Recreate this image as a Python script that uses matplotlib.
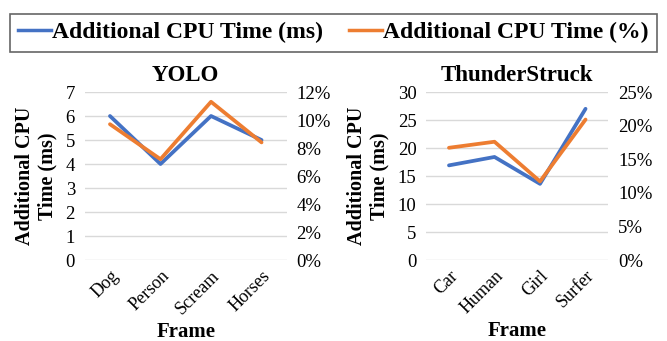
import matplotlib.pyplot as plt
import matplotlib.transforms as mtransforms
from matplotlib.ticker import FuncFormatter, MultipleLocator
from matplotlib.lines import Line2D

# data
yolo_frames = ['Dog', 'Person', 'Scream', 'Horses']
yolo_ms = [6.0, 4.0, 6.0, 5.0]
yolo_pct = [9.7, 7.2, 11.3, 8.4]

ts_frames = ['Car', 'Human', 'Girl', 'Surfer']
ts_ms = [16.9, 18.4, 13.6, 27.0]
ts_pct = [16.7, 17.6, 11.7, 20.9]

blue = '#4472C4'
orange = '#ED7D31'

plt.rcParams['font.family'] = ['Liberation Serif', 'DejaVu Serif']

fig = plt.figure(figsize=(6.67, 3.41), dpi=100)


def panel(rect, title, frames, ms, pct, ms_max, ms_step, pct_max, pct_step):
    ax = fig.add_axes(rect)
    ax2 = ax.twinx()
    x = range(len(frames))
    ax.plot(x, ms, color=blue, lw=2.7, solid_capstyle='round', zorder=3)
    ax2.plot(x, pct, color=orange, lw=2.7, solid_capstyle='round', zorder=3)
    ax.set_xlim(-0.5, len(frames) - 0.5)
    ax.set_ylim(0, ms_max)
    ax2.set_ylim(0, pct_max)
    ax.yaxis.set_major_locator(MultipleLocator(ms_step))
    ax2.yaxis.set_major_locator(MultipleLocator(pct_step))
    ax2.yaxis.set_major_formatter(FuncFormatter(lambda v, p: '%d%%' % v))
    ax.set_xticks(list(x))
    ax.set_xticklabels(frames, rotation=45, ha='right', rotation_mode='anchor')
    # nudge rotated labels a little to the right
    shift = mtransforms.ScaledTranslation(6 / 72, 0, fig.dpi_scale_trans)
    for lab in ax.get_xticklabels():
        lab.set_transform(lab.get_transform() + shift)
    ax.grid(axis='y', color='#d9d9d9', lw=1)
    ax.set_axisbelow(True)
    for a in (ax, ax2):
        for s in a.spines.values():
            s.set_visible(False)
        a.tick_params(length=0, labelsize=13.5, pad=7)
    ax.tick_params(axis='x', labelsize=13, pad=5)
    ax2.set_zorder(ax.zorder + 1)
    ax.set_title(title, fontsize=16.5, fontweight='bold', pad=8)
    ax.set_ylabel('Additional CPU\nTime (ms)', fontsize=14.5, fontweight='bold',
                  linespacing=1.15, labelpad=6)
    ax.set_xlabel('Frame', fontsize=15, fontweight='bold', labelpad=3.5)
    return ax


panel([0.127, 0.2375, 0.303, 0.4927], 'YOLO', yolo_frames, yolo_ms, yolo_pct, 7, 1, 12, 2)
panel([0.639, 0.2375, 0.273, 0.4927], 'ThunderStruck', ts_frames, ts_ms, ts_pct, 30, 5, 25, 5)

# shared legend on top
handles = [Line2D([], [], color=blue, lw=2.5), Line2D([], [], color=orange, lw=2.5)]
leg = fig.legend(handles, ['Additional CPU Time (ms)', 'Additional CPU Time (%)'],
                 loc='upper center', bbox_to_anchor=(0.5, 0.995), ncol=2,
                 prop={'weight': 'bold', 'size': 17}, frameon=True, fancybox=False,
                 edgecolor='#404040', handlelength=1.4, handletextpad=0.05,
                 columnspacing=1.1, borderpad=0.35)
leg.get_frame().set_linewidth(1.2)

fig.savefig('out.png', dpi=100)
